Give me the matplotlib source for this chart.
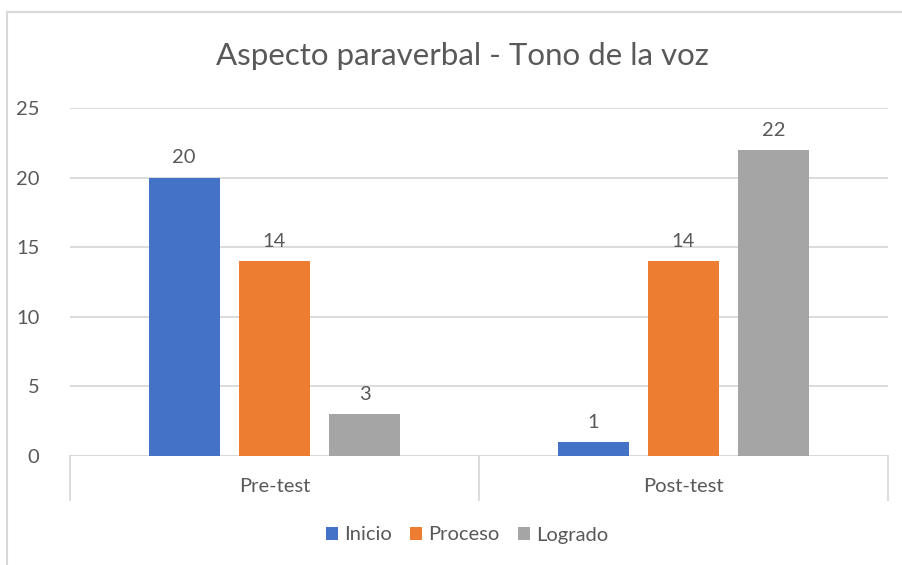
import numpy as np
import matplotlib.pyplot as plt

plt.rcParams['font.family'] = ['Lato', 'DejaVu Sans']

# Datos
categorias = ["Pre-test", "Post-test"]
series = ["Inicio", "Proceso", "Logrado"]
inicio = [20, 1]
proceso = [14, 14]
logrado = [3, 22]
colores = ["#4472C4", "#ED7D31", "#A5A5A5"]
texto = "#595959"
grid = "#D9D9D9"
fs = 14.5

fig = plt.figure(figsize=(9.02, 5.65), dpi=100)
ax = fig.add_axes([70 / 902, 1 - 456 / 565, 818 / 902, 348 / 565])

x = np.arange(len(categorias))
ancho = 0.174
paso = 0.221
for i, (vals, nombre) in enumerate(zip([inicio, proceso, logrado], series)):
    pos = x + (i - 1) * paso
    ax.bar(pos, vals, ancho, color=colores[i], label=nombre, zorder=3)
    for xp, v in zip(pos, vals):
        ax.text(xp, v + 0.8, str(v), ha='center', va='bottom', fontsize=fs, color=texto)

ax.set_xlim(-0.5, 1.5)
ax.set_ylim(0, 25)
ax.set_yticks(range(0, 26, 5))
ax.yaxis.grid(True, color=grid, linewidth=1.3, zorder=0)
ax.tick_params(axis='y', length=0, labelsize=fs, labelcolor=texto, pad=22)
ax.set_xticks([])
for s in ax.spines.values():
    s.set_visible(False)
ax.axhline(0, color=grid, linewidth=1.3, zorder=2)

# separadores de categorias
trans = ax.get_xaxis_transform()
for xs in [-0.5, 0.5, 1.5]:
    ax.plot([xs, xs], [0, -44 / 348], transform=trans, color=grid, linewidth=1.3, clip_on=False)
for xc, c in zip(x, categorias):
    ax.text(xc, -30 / 348, c, transform=trans, ha='center', va='center', fontsize=fs, color=texto)

fig.text(462 / 902, 1 - 56 / 565, "Aspecto paraverbal - Tono de la voz", ha='center', va='center',
         fontsize=22.5, color=texto)

leg = fig.legend(loc='center', bbox_to_anchor=(467 / 902, 1 - 535 / 565), ncol=3, frameon=False,
                 fontsize=fs, handlelength=0.6, handleheight=0.6, handletextpad=0.3, columnspacing=0.9)
for t in leg.get_texts():
    t.set_color(texto)

# marco del grafico
fig.add_artist(plt.Line2D([7 / 902, 7 / 902], [0, 1 - 12 / 565], transform=fig.transFigure, color=grid, linewidth=1.5))
fig.add_artist(plt.Line2D([7 / 902, 1], [1 - 12 / 565, 1 - 12 / 565], transform=fig.transFigure, color=grid, linewidth=1.5))

fig.savefig("out.png", dpi=100)
